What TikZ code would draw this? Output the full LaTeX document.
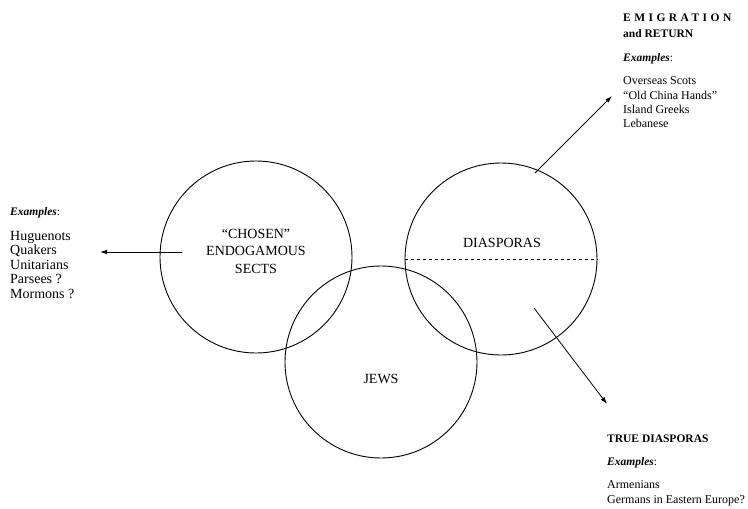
\documentclass[tikz,border=0pt]{standalone}
\usepackage{fontspec}
\setmainfont{Liberation Serif}
\usetikzlibrary{calc, positioning, arrows.meta}
\newcommand{\exemples}{\textbf{\textit{Examples}}:}

\begin{document}
\begin{tikzpicture}[x=1pt, y=-1pt]
  \tikzset{cercle/.style={circle, draw, line width=0.9pt, minimum size=192pt, inner sep=0pt},
    fleche/.style={-{Latex[length=7pt,width=4.5pt]}, line width=0.8pt},
    titre/.style={font=\fontsize{11.5}{14}\selectfont\bfseries, inner sep=0pt, anchor=base west},
    ex/.style={font=\fontsize{11.5}{14}\selectfont, inner sep=0pt, anchor=base west},
    liste/.style={font=\fontsize{12}{14.3}\selectfont, align=left, inner sep=0pt},
    etiq/.style={font=\fontsize{14}{17.5}\selectfont, align=center, inner sep=0pt}}
  \useasboundingbox (0,0) rectangle (748,509);
  \node[cercle] (sects) at (256,257) {};
  \node[cercle] (jews) at (381,362) {};
  \node[cercle] (diasp) at (501,259) {};
  \draw[dashed, line width=0.8pt] (diasp.west) -- (diasp.east);
  \node[etiq] (sects txt) at (256,251) {``CHOSEN''\\ENDOGAMOUS\\SECTS};
  \node[etiq] (diasp txt) at (502,243) {DIASPORAS};
  \node[etiq] (jews txt) at (381,379) {JEWS};
  % exemples a gauche
  \node[ex] (gauche tete) at (10,215) {\exemples};
  \node[liste, font=\fontsize{14}{14.5}\selectfont, below=13pt of gauche tete.south west,
    anchor=north west] (gauche liste)
    {Huguenots\\Quakers\\Unitarians\\Parsees ?\\Mormons ?};
  % emigration et retour
  \node[titre] (emig) at (623,21) {\addfontfeature{LetterSpace=30}EMIGRATION};
  \node[titre] (retour) at (623,37) {and RETURN};
  \node[ex] (haut tete) at (623,61) {\exemples};
  \node[liste, below=13pt of haut tete.south west, anchor=north west] (haut liste)
    {Overseas Scots\\``Old China Hands''\\Island Greeks\\Lebanese};
  % vraies diasporas
  \node[titre] (vraie) at (607,442) {TRUE DIASPORAS};
  \node[ex] (bas tete) at (607,465) {\exemples};
  \node[liste, below=13pt of bas tete.south west, anchor=north west] (bas liste)
    {Armenians\\Germans in Eastern Europe?};
  % fleches
  \coordinate (sects sortie) at ($(sects)+(-74,-5)$);
  \coordinate (gauche bout) at (100,252);
  \coordinate (diasp haut) at ($(diasp)+(34,-86)$);
  \coordinate (haut bout) at (612,96);
  \coordinate (diasp bas) at ($(diasp)+(33,49)$);
  \coordinate (bas bout) at (607,404);
  \draw[fleche] (sects sortie) -- (gauche bout);
  \draw[fleche] (diasp haut) -- (haut bout);
  \draw[fleche] (diasp bas) -- (bas bout);
\end{tikzpicture}
\end{document}
